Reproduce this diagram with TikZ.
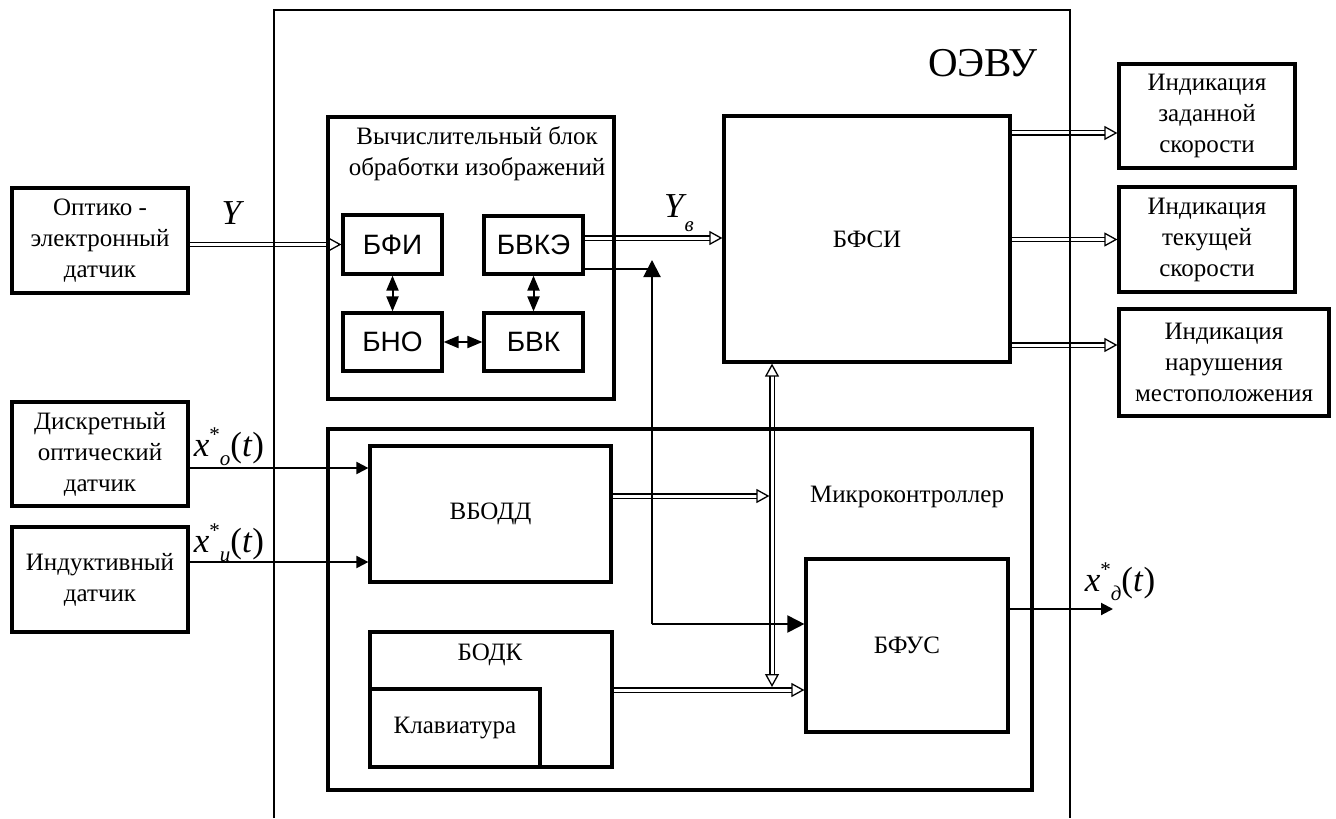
\documentclass[tikz,border=0pt]{standalone}
\usepackage{fontspec}
\setmainfont{Liberation Serif}
\setsansfont{Liberation Sans}
\usetikzlibrary{arrows.meta}
\pgfdeclarelayer{back}
\pgfsetlayers{back,main}
\newcommand{\xsig}[1]{\textit{x}\raisebox{0.9ex}{\fontsize{10.5}{10.5}\selectfont *}\raisebox{-0.6ex}{\fontsize{10.5}{10.5}\selectfont\textit{#1}}(\textit{t})}

\begin{document}
\begin{tikzpicture}[x=0.5pt, y=-0.5pt,
  blk/.style={draw, line width=1.6pt, inner sep=0pt, align=center, font=\fontsize{12.5}{15.5}\selectfont},
  sblk/.style={blk, font=\sffamily\fontsize{14}{16}\selectfont},
  sz/.style 2 args={minimum width=#1*0.5pt, minimum height=#2*0.5pt},
  lbl/.style={align=center, font=\fontsize{12.5}{15.5}\selectfont},
  mlbl/.style={inner sep=0pt, font=\fontsize{17.5}{20}\selectfont},
  bus/.style={double, line width=0.65pt, double distance=1.5pt, -{Triangle[open, length=6.5pt, width=7pt]}},
  bbus/.style={bus, {Triangle[open, length=6.5pt, width=7pt]}-{Triangle[open, length=6.5pt, width=7pt]}},
  sig/.style={line width=1pt, -{Triangle[length=6pt, width=6pt]}},
  bigsig/.style={line width=1pt, -{Triangle[length=8.5pt, width=8.5pt]}},
  twosig/.style={line width=1pt, {Triangle[length=7.5pt, width=6pt]}-{Triangle[length=7.5pt, width=6pt]}}]
  \useasboundingbox (0,0) rectangle (1336,818);

  % sensors
  \node[blk, sz={176}{105}] (opt) at (100,240.5) {Оптико -\\электронный\\датчик};
  \node[blk, sz={176}{104}] (disc) at (100,454) {Дискретный\\оптический\\датчик};
  \node[blk, sz={176}{105}] (ind) at (100,579.5) {Индуктивный\\датчик};

  % image processing block
  \node[blk, sz={286}{282}] (vb) at (471,258) {};
  \node[lbl] (vbt) at (477,154) {Вычислительный блок\\обработки изображений};
  \node[sblk, sz={99}{59}] (bfi) at (392.5,244.5) {БФИ};
  \node[sblk, sz={99}{58}] (bno) at (392.5,342) {БНО};
  \node[sblk, sz={99}{58}] (bvke) at (533.5,245) {БВКЭ};
  \node[sblk, sz={99}{58}] (bvk) at (533.5,342) {БВК};

  \node[blk, sz={286}{246}] (bfsi) at (867,239) {БФСИ};

  % indicators
  \node[blk, sz={176}{104}] (ind1) at (1207,116) {Индикация\\заданной\\скорости};
  \node[blk, sz={176}{105}] (ind2) at (1207,239.5) {Индикация\\текущей\\скорости};
  \node[blk, sz={210}{107}] (ind3) at (1224,362.5) {Индикация\\нарушения\\местоположения};

  % microcontroller
  \node[blk, sz={704}{361}] (mk) at (680,609.5) {};
  \node[lbl] (mkt) at (907,497) {Микроконтроллер};
  \node[blk, sz={241}{136}] (vbodd) at (490.5,514) {ВБОДД};
  \node[blk, sz={202}{173}] (bfus) at (907,645.5) {БФУС};
  \node[blk, sz={242}{135}] (bodk) at (491,699.5) {};
  \node[lbl] (bodkt) at (490,655) {БОДК};
  \node[blk, sz={170}{78}] (klav) at (455,728) {Клавиатура};

  \node[font=\fontsize{20.5}{24}\selectfont] (oevu) at (983,63) {ОЭВУ};

  % signal labels
  \node[mlbl] (ly) at (233,213) {\textit{Y}};
  \node[mlbl] (lyv) at (679,213) {\textit{Y}\kern-1pt\raisebox{-0.9ex}{\fontsize{10.5}{10.5}\selectfont\textit{в}}};
  \node[mlbl] (lxo) at (229,447) {\xsig{о}};
  \node[mlbl] (lxu) at (229,543) {\xsig{и}};
  \node[mlbl] (lxd) at (1120,582) {\xsig{д}};

  \coordinate (jt) at (652,260);
  \coordinate (jb) at (652,624);
  \coordinate (bb) at (772,687);
  \coordinate (xout) at (1113,609);

  \begin{pgfonlayer}{back}
    \draw[bus] (opt.east |- bfi.west) -- (bfi.west);
    \draw[bus] ([yshift=3.5pt]bvke.east) -- ([yshift=3.5pt]bvke.east -| bfsi.west);
    \draw[bus] ([yshift=-8.5pt]ind1.west -| bfsi.east) -- ([yshift=-8.5pt]ind1.west);
    \draw[bus] (bfsi.east |- ind2.west) -- (ind2.west);
    \draw[bus] ([yshift=8.75pt]ind3.west -| bfsi.east) -- ([yshift=8.75pt]ind3.west);
    \draw[bus] ([yshift=9pt]vbodd.east) -- ([yshift=9pt,xshift=-1.3pt]vbodd.east -| bb);
    \draw[bus] ([yshift=4.75pt]bodk.east) -- ([yshift=4.75pt]bodk.east -| bfus.west);
    \draw[bbus] (bb) -- (bb |- bfsi.south);

    \draw[twosig] (bfi.south) -- (bno.north);
    \draw[twosig] (bvke.south) -- (bvk.north);
    \draw[twosig] (bno.east) -- (bvk.west);

    \draw[line width=1pt] ([yshift=-12pt]bvke.east) -- ([yshift=-12pt]bvke.east -| jt);
    \draw[bigsig] (jb) -- (jt);
    \draw[bigsig] (jb) -- (jb -| bfus.west);

    \draw[sig] ([yshift=-7pt]disc.east) -- ([yshift=-7pt]disc.east -| vbodd.west);
    \draw[sig] ([yshift=8.75pt]ind.east) -- ([yshift=8.75pt]ind.east -| vbodd.west);
    \draw[sig] (xout -| bfus.east) -- (xout);
  \end{pgfonlayer}

  % device frame
  \draw[line width=1pt] (274,818) -- (274,10) -- (1070,10) -- (1070,818);
\end{tikzpicture}
\end{document}
